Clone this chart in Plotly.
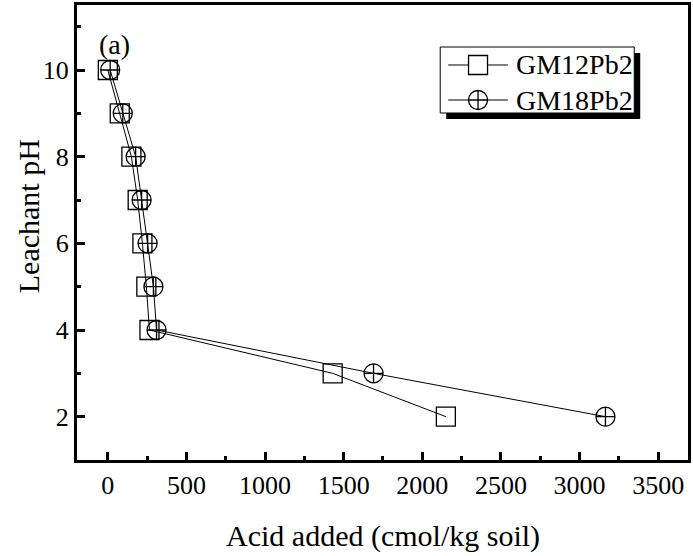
import plotly.graph_objects as go

ph = [10, 9, 8, 7, 6, 5, 4, 3, 2]
gm12_acid = [0, 76, 150, 190, 220, 245, 265, 1430, 2150]
gm18_acid = [15, 95, 177, 215, 253, 290, 310, 1690, 3165]

series_names = ["GM12Pb2", "GM18Pb2"]
symbols = ["square-open", "circle-cross-open"]
legend_symbols = ["square", "circle-cross"]
x_ticks = [0, 500, 1000, 1500, 2000, 2500, 3000, 3500]
y_ticks = [2, 4, 6, 8, 10]

FONT = "Liberation Serif"
W, H = 693, 556
L, R, T, B = 77, 2, 5, 96
PW, PH = W - L - R, H - T - B


def px(x):
    return (x - L) / PW


def py(y):
    return (H - B - y) / PH


fig = go.Figure()
for xs, name, sym in [(gm12_acid, series_names[0], symbols[0]),
                      (gm18_acid, series_names[1], symbols[1])]:
    fig.add_trace(go.Scatter(
        x=xs, y=ph, name=name, mode="lines+markers", showlegend=False,
        line=dict(color="black", width=1),
        marker=dict(symbol=sym, size=19, color="black", line=dict(width=1.3)),
    ))

axis_common = dict(
    showline=True, linecolor="black", linewidth=3, mirror=True,
    ticks="inside", ticklen=8, tickwidth=3, tickcolor="black",
    showgrid=False, zeroline=False,
    tickfont=dict(family=FONT, size=26, color="black"),
)

fig.update_xaxes(
    range=[-196, 3690], tickvals=x_ticks,
    minor=dict(dtick=250, tick0=0, ticks="inside", ticklen=4, tickwidth=3, tickcolor="black"),
    **axis_common,
)
fig.update_yaxes(
    range=[1, 11.5], tickvals=y_ticks,
    minor=dict(dtick=1, tick0=1, ticks="inside", ticklen=4, tickwidth=3, tickcolor="black"),
    **axis_common,
)

# axis titles
fig.add_annotation(text="Acid added (cmol/kg soil)", xref="paper", yref="paper",
                   x=px(385), y=py(536), xanchor="center", yanchor="middle",
                   showarrow=False, font=dict(family=FONT, size=30, color="black"))
fig.add_annotation(text="Leachant pH", xref="paper", yref="paper",
                   x=px(28), y=py(216), xanchor="center", yanchor="middle", textangle=-90,
                   showarrow=False, font=dict(family=FONT, size=30, color="black"))

# panel label
fig.add_annotation(text="(a)", xref="paper", yref="paper",
                   x=px(115), y=py(44), xanchor="center", yanchor="middle", showarrow=False,
                   font=dict(family=FONT, size=28, color="black"))

# legend (drawn manually with shadow)
bx0, bx1, by0, by1 = 442, 637, 47, 113
sh = 6
fig.add_shape(type="rect", xref="paper", yref="paper",
              x0=px(bx0 + sh), x1=px(bx1 + sh), y0=py(by1 + sh), y1=py(by0 + sh),
              fillcolor="black", line=dict(width=0), layer="below")
fig.add_shape(type="rect", xref="paper", yref="paper",
              x0=px(bx0), x1=px(bx1), y0=py(by1), y1=py(by0),
              fillcolor="white", line=dict(color="black", width=1), layer="below")
rows = [65, 100]
for name, ry in zip(series_names, rows):
    fig.add_shape(type="line", xref="paper", yref="paper",
                  x0=px(450), x1=px(510), y0=py(ry), y1=py(ry),
                  line=dict(color="black", width=1), layer="below")
    fig.add_annotation(text=name, xref="paper", yref="paper",
                       x=px(516), y=py(ry), xanchor="left", yanchor="middle", showarrow=False,
                       font=dict(family=FONT, size=28, color="black"))
fig.add_trace(go.Scatter(
    x=[px(480), px(480)], y=[py(r) for r in rows], xaxis="x2", yaxis="y2",
    mode="markers", showlegend=False, hoverinfo="skip",
    marker=dict(symbol=legend_symbols, size=19, color="white",
                line=dict(width=1.3, color="black")),
))
fig.update_layout(
    xaxis2=dict(overlaying="x", range=[0, 1], visible=False, domain=[0, 1]),
    yaxis2=dict(overlaying="y", range=[0, 1], visible=False, domain=[0, 1]),
)

fig.update_layout(
    width=W, height=H,
    margin=dict(l=L, r=R, t=T, b=B),
    paper_bgcolor="white", plot_bgcolor="white",
    showlegend=False,
)

fig.write_html("out.html")
